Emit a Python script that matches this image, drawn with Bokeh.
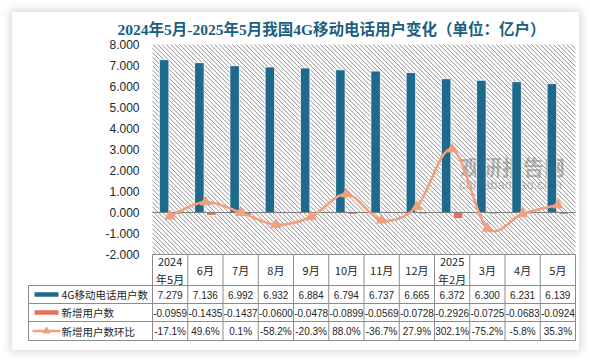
from bokeh.plotting import figure
from bokeh.models import Range1d
from bokeh.core.properties import value
from bokeh.embed import file_html
from bokeh.resources import INLINE

# ---------------- data ----------------
categories = ["2024\n年5月", "6月", "7月", "8月", "9月", "10月", "11月", "12月",
              "2025\n年2月", "3月", "4月", "5月"]
users_4g = [7.279, 7.136, 6.992, 6.932, 6.884, 6.794, 6.737, 6.665, 6.372, 6.300, 6.231, 6.139]
new_users = [-0.0959, -0.1435, -0.1437, -0.0600, -0.0478, -0.0899, -0.0569, -0.0728,
             -0.2926, -0.0725, -0.0683, -0.0924]
new_ratio_pct = [-17.1, 49.6, 0.1, -58.2, -20.3, 88.0, -36.7, 27.9, 302.1, -75.2, -5.8, 35.3]
y_ticks = [-2, -1, 0, 1, 2, 3, 4, 5, 6, 7, 8]
series_names = ["4G移动电话用户数", "新增用户数", "新增用户数环比"]
TITLE = "2024年5月-2025年5月我国4G移动电话用户变化（单位：亿户）"

BLUE = "#1F6A8C"
RED = "#E8705B"
ORANGE = "#F0A07C"
TXT = "#262626"
GRIDC = "#8c8c8c"

# -------------- layout helpers (page pixel -> data) --------------
CW = 35.25   # px per category
X0 = 152.0   # page x of category-axis start
PYU = 21.0   # px per value unit
Y0 = 212.0   # page y of value 0


def px2x(px):
    return (px - X0) / CW


def py2y(py):
    return (Y0 - py) / PYU


n = len(categories)
xs = [i + 0.5 for i in range(n)]
ratio = [r / 100.0 for r in new_ratio_pct]

p = figure(width=567, height=338,
           x_range=Range1d(px2x(26), px2x(577)),
           y_range=Range1d(py2y(342), py2y(12)),
           output_backend="svg", toolbar_location=None,
           x_axis_location=None, y_axis_location=None,
           min_border_left=14, min_border_right=2, min_border_top=0, min_border_bottom=8,
           outline_line_color=None, title=None)
p.grid.visible = False
p.styles = {"margin-left": "12px", "margin-top": "12px",
            "box-shadow": "0px 0px 9px 2px rgba(0,0,0,0.16)"}

# hatched plot area (diagonal lines drawn as segments)
L, R = X0, X0 + n * CW
T, B = Y0 - max(y_ticks) * PYU, Y0 - min(y_ticks) * PYU
sx0, sy0, sx1, sy1 = [], [], [], []
step = 4.4
c = T - R
while c < B - L:
    xa = max(L, T - c)
    xb = min(R, B - c)
    if xb > xa:
        sx0.append(px2x(xa)); sy0.append(py2y(xa + c))
        sx1.append(px2x(xb)); sy1.append(py2y(xb + c))
    c += step
p.segment(x0=sx0, y0=sy0, x1=sx1, y1=sy1, line_color="#8f8f8f", line_width=1)

# watermark
p.text(x=[px2x(512)], y=[py2y(165)], text=["观研报告网"], text_align="center",
       text_baseline="middle", text_font=value("Noto Sans CJK SC"), text_font_style="bold",
       text_font_size="21px", text_color="#7a7a7a", text_alpha=0.55)
p.text(x=[px2x(510)], y=[py2y(184)], text=["chinabaogao.com"], text_align="center",
       text_baseline="middle", text_font=value("Liberation Sans"),
       text_font_size="13px", text_color="#7a7a7a", text_alpha=0.55)

# bars
p.vbar(x=[x - 0.17 for x in xs], top=users_4g, bottom=0, width=0.27,
       fill_color=BLUE, line_color="white", line_width=0.8)
p.vbar(x=[x + 0.17 for x in xs], top=new_users, bottom=0, width=0.27,
       fill_color=RED, line_color="white", line_width=0.8)

# zero line
p.segment(x0=[0], y0=[0], x1=[n], y1=[0], line_color="#7f7f7f", line_width=1)

# smoothed ratio line (bezier through the data points)
bx0, by0, bx1, by1, cx0, cy0, cx1, cy1 = [], [], [], [], [], [], [], []
for i in range(n - 1):
    pm = i - 1 if i > 0 else i
    pn = i + 2 if i + 2 < n else i + 1
    bx0.append(xs[i]); by0.append(ratio[i])
    bx1.append(xs[i + 1]); by1.append(ratio[i + 1])
    cx0.append(xs[i] + (xs[i + 1] - xs[pm]) / 6.0)
    cy0.append(ratio[i] + (ratio[i + 1] - ratio[pm]) / 6.0)
    cx1.append(xs[i + 1] - (xs[pn] - xs[i]) / 6.0)
    cy1.append(ratio[i + 1] - (ratio[pn] - ratio[i]) / 6.0)
p.bezier(x0=bx0, y0=by0, x1=bx1, y1=by1, cx0=cx0, cy0=cy0, cx1=cx1, cy1=cy1,
         line_color=ORANGE, line_width=2.5)
p.scatter(x=xs, y=ratio, marker="triangle", size=10, fill_color=ORANGE, line_color=ORANGE)

# y tick labels
p.text(x=[0] * len(y_ticks), y=y_ticks, text=[f"{t:.3f}" for t in y_ticks],
       x_offset=-13, text_align="right", text_baseline="middle",
       text_font=value("Liberation Sans"), text_font_size="12px", text_color=TXT)

# title
p.text(x=[px2x(331)], y=[py2y(28.5)], text=[TITLE], text_align="center",
       text_baseline="middle", text_font=value("Liberation Serif, Noto Sans CJK SC"),
       text_font_style="bold", text_font_size="15.5px", text_color="#1B5E7F")

# ---------------- data table ----------------
row_edges = [254, 285, 303, 321, 340]
tbl_left = px2x(28)
top_y = py2y(row_edges[0])
bot_y = py2y(row_edges[-1])
hx0, hy0, hx1, hy1 = [], [], [], []
hx0.append(0); hx1.append(n); hy0.append(top_y); hy1.append(top_y)
for e in row_edges[1:]:
    hx0.append(tbl_left); hx1.append(n); hy0.append(py2y(e)); hy1.append(py2y(e))
for i in range(n + 1):
    hx0.append(i); hx1.append(i); hy0.append(top_y); hy1.append(bot_y)
hx0.append(tbl_left); hx1.append(tbl_left); hy0.append(py2y(row_edges[1])); hy1.append(bot_y)
p.segment(x0=hx0, y0=hy0, x1=hx1, y1=hy1, line_color=GRIDC, line_width=1)

row_c = [(row_edges[k] + row_edges[k + 1]) / 2.0 for k in range(4)]

p.text(x=xs, y=[py2y(row_c[0])] * n, text=categories, text_align="center",
       text_baseline="middle", text_font=value("Noto Sans CJK SC"),
       text_font_size="11px", text_color=TXT, text_line_height=1.15)

rows_txt = [[f"{v:.3f}" for v in users_4g],
            [f"{v:.4f}" for v in new_users],
            [f"{v:.1f}%" for v in new_ratio_pct]]
for k, vals in enumerate(rows_txt):
    p.text(x=xs, y=[py2y(row_c[k + 1])] * n, text=vals, text_align="center",
           text_baseline="middle", text_font=value("Liberation Sans"),
           text_font_size="10px", text_color=TXT)

# legend column
leg_y = [py2y(rc) for rc in row_c[1:]]
p.text(x=[px2x(61)] * 3, y=leg_y, text=series_names, text_align="left",
       text_baseline="middle", text_font=value("Noto Sans CJK SC"),
       text_font_size="10.5px", text_color=TXT)
p.segment(x0=[px2x(34)], y0=[leg_y[0]], x1=[px2x(58)], y1=[leg_y[0]], line_color=BLUE, line_width=4.5)
p.segment(x0=[px2x(34)], y0=[leg_y[1]], x1=[px2x(58)], y1=[leg_y[1]], line_color=RED, line_width=4.5)
p.segment(x0=[px2x(32)], y0=[leg_y[2]], x1=[px2x(60)], y1=[leg_y[2]], line_color=ORANGE, line_width=2.5)
p.scatter(x=[px2x(46)], y=[leg_y[2]], marker="triangle", size=7, fill_color=ORANGE, line_color=ORANGE)

open("out.html", "w").write(file_html(p, INLINE))
